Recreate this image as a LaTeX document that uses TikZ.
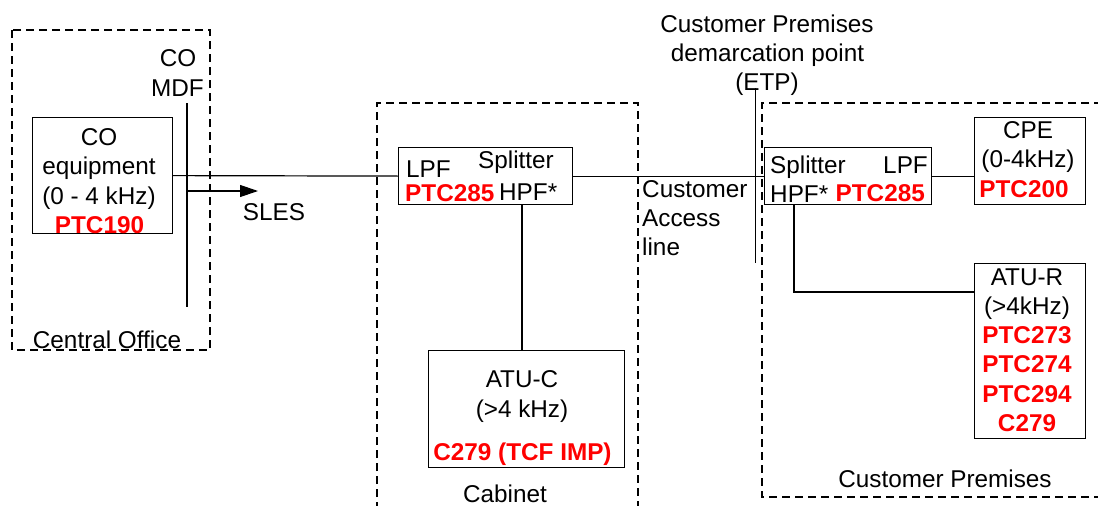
\documentclass[tikz,border=0pt]{standalone}
\usepackage{fontspec}
\setmainfont{Liberation Sans}
\usetikzlibrary{arrows.meta}
\newcommand\labfont{\fontsize{24.3}{29}\selectfont}
\begin{document}
\begin{tikzpicture}[x=1pt,y=-1pt,
  box/.style={draw, line width=1.2pt, inner sep=0pt, anchor=north west},
  zone/.style={draw, dash pattern=on 8pt off 5pt, line width=1.2pt},
  wire/.style={draw, line width=1.2pt},
  t/.style={anchor=base, inner sep=0pt, font=\labfont},
  tw/.style={t, anchor=base west},
  te/.style={t, anchor=base east},
  rt/.style={t, text=red, font=\labfont\bfseries},
  rtw/.style={rt, anchor=base west},
  rte/.style={rt, anchor=base east}]
\useasboundingbox (0,0) rectangle (1098,506);
% zones
\draw[zone] (12,30) rectangle (210,350);
\draw[zone] (377,510) -- (377,103) -- (638,103) -- (638,510);
\draw[zone] (1102,103) -- (762,103) -- (762,497) -- (1102,497);
% boxes
\node[box, minimum width=140pt, minimum height=116pt] (coeq) at (32,117) {};
\node[box, minimum width=174pt, minimum height=57pt] (spl1) at (398,147) {};
\node[box, minimum width=196pt, minimum height=117pt] (atuc) at (428,350) {};
\node[box, minimum width=167pt, minimum height=57pt] (spl2) at (764,147) {};
\node[box, minimum width=111pt, minimum height=87pt] (cpe) at (974,117) {};
\node[box, minimum width=111pt, minimum height=175pt] (atur) at (974,263) {};
% reference coordinates
\coordinate (mdfT) at (187,103);
\coordinate (mdfB) at (187,307);
\coordinate (slesS) at (187,191);
\coordinate (slesE) at (258,191);
\coordinate (etpT) at (755.7,88);
\coordinate (etpB) at (755.7,263);
\coordinate (c1) at (522,0);
\coordinate (c2) at (794,292);
% connectors
\draw[wire] (coeq.east) -- (spl1.west);
\draw[wire] (spl1.east) -- (spl2.west);
\draw[wire] (spl2.east) -- (spl2.east -| cpe.west);
\draw[wire] (spl1.south -| c1) -- (atuc.north -| c1);
\draw[wire] (spl2.south -| c2) -- (c2) -- (c2 -| atur.west);
\draw[wire] (mdfT) -- (mdfB);
\draw[wire] (etpT) -- (etpB);
\draw[wire, -{Triangle[length=18pt,width=12pt]}] (slesS) -- (slesE);
% Central office texts
\node[t] (l1) at (99,145) {CO};
\node[t] (l2) at (99,174.5) {equipment};
\node[t] (l3) at (99,204) {(0 - 4 kHz)};
\node[rt] (l4) at (99.5,233) {PTC190};
\node[t] (l5) at (178,66) {CO};
\node[t] (l6) at (177.5,96) {MDF};
\node[t] (l7) at (274,220) {SLES};
\node[t] (l8) at (107,348) {Central Office};
% cabinet
\node[tw] (l9) at (406,177) {LPF};
\node[tw] (l10) at (478,168) {Splitter};
\node[rtw] (l11) at (405,201) {PTC285};
\node[tw] (l12) at (499,200) {HPF*};
\node[t] (l13) at (522,387) {ATU-C};
\node[t] (l14) at (522,417) {(>4 kHz)};
\node[rt] (l15) at (522.5,460) {C279 (TCF IMP)};
\node[t] (l16) at (505,502) {Cabinet};
% demarcation
\node[t] (l17) at (767,32) {Customer Premises};
\node[t] (l18) at (767.5,61) {demarcation point};
\node[t] (l19) at (767,90) {(ETP)};
\node[tw] (l20) at (642,197) {Customer};
\node[tw] (l21) at (642,226) {Access};
\node[tw] (l22) at (642,255) {line};
% customer premises
\node[tw] (l23) at (770,173) {Splitter};
\node[te] (l24) at (928,173) {LPF};
\node[tw] (l25) at (770,202) {HPF*};
\node[rte] (l26) at (925,201) {PTC285};
\node[t] (l27) at (1028,138) {CPE};
\node[t] (l28) at (1028,167) {(0-4kHz)};
\node[rt] (l29) at (1024,197) {PTC200};
\node[t] (l30) at (1027,285) {ATU-R};
\node[t] (l31) at (1027,314) {(>4kHz)};
\node[rt] (l32) at (1027,343) {PTC273};
\node[rt] (l33) at (1027,372) {PTC274};
\node[rt] (l34) at (1027,402) {PTC294};
\node[rt] (l35) at (1027,431) {C279};
\node[t] (l36) at (945,487) {Customer Premises};
\end{tikzpicture}
\end{document}
